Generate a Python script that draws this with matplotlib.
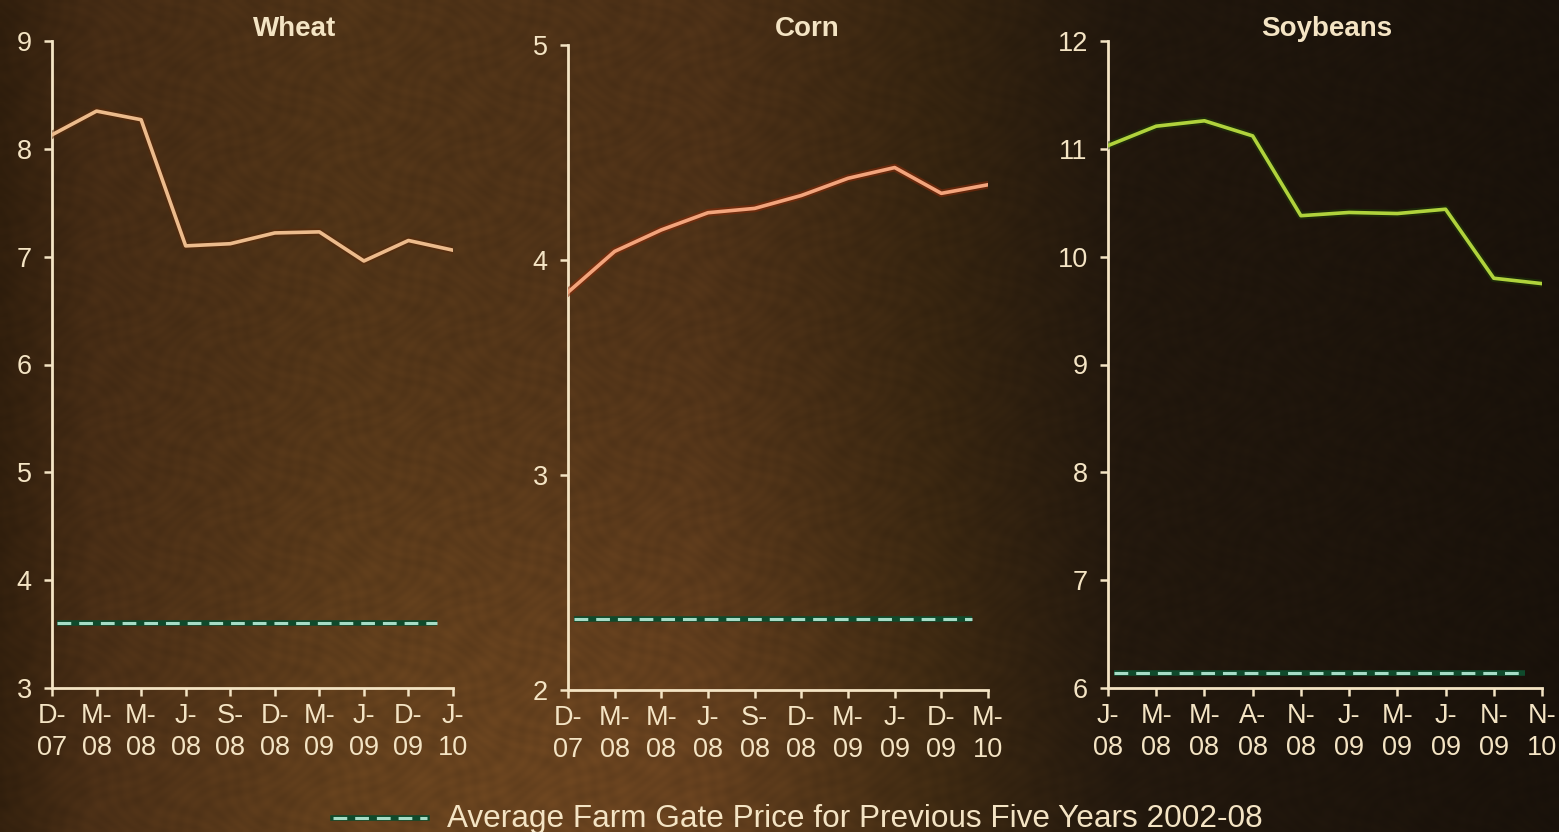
import numpy as np
import matplotlib
matplotlib.use("Agg")
import matplotlib.pyplot as plt
import matplotlib.patheffects as pe

plt.rcParams['font.family'] = ['Liberation Sans', 'DejaVu Sans']

# ---- data ($ per bushel) ----
wheat_months = ["D-07", "M-08", "M-08", "J-08", "S-08", "D-08", "M-09", "J-09", "D-09", "J-10"]
wheat_price = [8.13, 8.35, 8.27, 7.10, 7.12, 7.22, 7.23, 6.96, 7.15, 7.06]
wheat_avg = 3.60

corn_months = ["D-07", "M-08", "M-08", "J-08", "S-08", "D-08", "M-09", "J-09", "D-09", "M-10"]
corn_price = [3.85, 4.04, 4.14, 4.22, 4.24, 4.30, 4.38, 4.43, 4.31, 4.35]
corn_avg = 2.33

soy_months = ["J-08", "M-08", "M-08", "A-08", "N-08", "J-09", "M-09", "J-09", "N-09", "N-10"]
soy_price = [11.03, 11.21, 11.26, 11.12, 10.38, 10.41, 10.40, 10.44, 9.80, 9.75]
soy_avg = 6.14

legend_text = "Average Farm Gate Price for Previous Five Years 2002-08"

CREAM = "#f4e4c4"
W, H = 1559, 832
fig = plt.figure(figsize=(W / 100, H / 100), dpi=100)

# ---- textured brown backdrop ----
bg = fig.add_axes([0, 0, 1, 1], zorder=-10)
bg.set_axis_off()
xs = np.linspace(0, 1, 520)
ys = np.linspace(0, 1, 280)
X, Y = np.meshgrid(xs, ys)
stops_x = [0.0, 0.06, 0.22, 0.45, 0.6, 0.72, 1.0]
stops_c = np.array([
    [0.19, 0.12, 0.05],
    [0.27, 0.17, 0.08],
    [0.31, 0.20, 0.09],
    [0.30, 0.19, 0.09],
    [0.21, 0.14, 0.06],
    [0.13, 0.09, 0.05],
    [0.10, 0.07, 0.04],
])
img = np.zeros(X.shape + (3,))
for k in range(3):
    img[..., k] = np.interp(X, stops_x, stops_c[:, k])
# brighter glow toward the lower middle
glow = np.exp(-(((X - 0.38) / 0.28) ** 2) - (((Y - 0.0) / 0.45) ** 2))
img = img * (1 + 0.35 * glow[..., None])
# fine mottled grain
grain = (0.05 * np.sin(X * 410.0 + np.sin(Y * 57.0) * 4)
         * np.sin(Y * 233.0 + np.sin(X * 83.0) * 3)
         + 0.03 * np.sin(X * 97.0 + Y * 61.0) * np.sin(Y * 143.0 - X * 37.0))
img = np.clip(img * (1 + grain[..., None]), 0, 1)
bg.imshow(img, extent=[0, 1, 0, 1], aspect="auto", origin="lower", interpolation="bilinear")
bg.set_xlim(0, 1)
bg.set_ylim(0, 1)


def px_rect(left, right, top, bottom):
    return [left / W, 1 - bottom / H, (right - left) / W, (bottom - top) / H]


def panel(rect, months, prices, avg, ylim, color, shadow, title, title_x):
    ax = fig.add_axes(rect)
    ax.patch.set_alpha(0)
    x = np.arange(len(months))
    ax.plot(x, prices, color=color, lw=2.6, solid_joinstyle="round", zorder=3,
            path_effects=[pe.Stroke(linewidth=5.5, foreground=shadow, alpha=0.55), pe.Normal()])
    # five-year average reference
    ax.hlines(avg, 0.12, 8.65, colors="#0f4a2c", lw=4.0, zorder=2)
    ax.hlines(avg, 0.12, 8.65, colors="#a6dcc6", lw=2.2, linestyles=(0, (4.5, 2.6)), zorder=2.5)
    ax.set_xlim(0, len(months) - 1)
    ax.set_ylim(*ylim)
    ax.set_yticks(np.arange(ylim[0], ylim[1] + 1))
    ax.set_xticks(x)
    ax.set_xticklabels([m.replace("-", "-\n") for m in months], linespacing=1.3)
    for s in ["top", "right"]:
        ax.spines[s].set_visible(False)
    for s in ["left", "bottom"]:
        ax.spines[s].set_color(CREAM)
        ax.spines[s].set_linewidth(2.0)
    ax.tick_params(colors=CREAM, labelcolor=CREAM, labelsize=19.5, width=1.8, length=5.5,
                   direction="out")
    ax.tick_params(axis="y", pad=9)
    ax.tick_params(axis="x", pad=5)
    fig.text(title_x / W, 1 - 29 / H, title, color=CREAM, fontsize=20, fontweight="bold",
             ha="center", va="center")
    return ax


panel(px_rect(52, 453, 41, 688), wheat_months, wheat_price, wheat_avg, (3, 9),
      "#ecbb8c", "#5a2a0a", "Wheat", 295)
panel(px_rect(568, 988, 45, 690), corn_months, corn_price, corn_avg, (2, 5),
      "#f2a47c", "#8a2a08", "Corn", 807)
panel(px_rect(1108, 1542, 41, 688), soy_months, soy_price, soy_avg, (6, 12),
      "#b0d23c", "#1f3a08", "Soybeans", 1327)

# legend at the bottom
lg = fig.add_axes([0, 0, 1, 1], zorder=5)
lg.set_axis_off()
lg.set_xlim(0, W)
lg.set_ylim(H, 0)
lg.plot([333, 427], [818, 818], color="#0f4a2c", lw=4.0)
lg.plot([333, 427], [818, 818], color="#a6dcc6", lw=2.2, linestyle=(0, (4.5, 2.6)))
lg.text(447, 827, legend_text, color=CREAM, fontsize=22.7, ha="left", va="baseline")

fig.savefig("out.png", dpi=100)
